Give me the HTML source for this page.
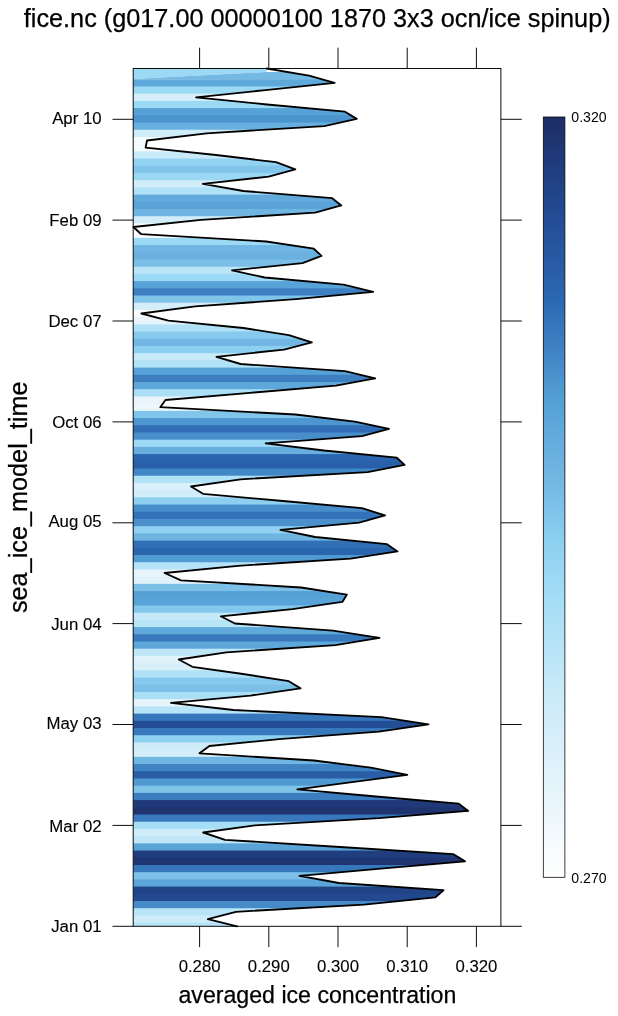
<!DOCTYPE html><html><head><meta charset="utf-8"><title>fice.nc</title>
<style>html,body{margin:0;padding:0;background:#fff}svg{display:block}text{font-family:"Liberation Sans",sans-serif;fill:#000}.b{stroke:#000;stroke-width:0.25px}.m{stroke:#000;stroke-width:0.12px}</style></head><body>
<svg width="618" height="1016" viewBox="0 0 618 1016">
<rect width="618" height="1016" fill="#fff"/>
<defs><clipPath id="c"><polygon points="133.2,68.5 266.5,68.5 309.0,75.7 334.6,82.9 265.6,90.1 196.1,97.3 267.0,104.5 345.0,111.7 356.7,118.9 324.3,126.1 206.6,133.3 147.0,140.5 145.6,147.7 216.0,155.0 276.0,162.2 295.3,169.4 268.7,176.6 202.9,183.8 243.4,191.0 332.2,198.2 341.3,205.4 315.2,212.6 200.9,219.8 133.4,227.0 141.3,234.2 266.1,241.5 313.8,248.7 321.5,255.9 302.5,263.1 232.1,270.3 264.7,277.5 343.6,284.7 373.2,291.9 296.0,299.1 195.2,306.3 141.3,313.5 168.3,320.7 243.4,328.0 288.8,335.2 311.8,342.4 284.0,349.6 216.5,356.8 240.6,364.0 345.0,371.2 375.2,378.4 336.0,385.6 250.0,392.8 165.5,400.0 160.3,407.2 295.4,414.5 354.9,421.7 389.0,428.9 362.0,436.1 265.6,443.3 324.0,450.5 396.8,457.7 404.6,464.9 367.7,472.1 240.6,479.3 191.0,486.5 203.0,493.8 283.0,501.0 362.0,508.2 385.0,515.4 359.2,522.6 280.5,529.8 315.2,537.0 387.0,544.2 397.5,551.4 350.7,558.6 238.0,565.8 164.6,573.0 181.0,580.3 301.0,587.5 346.8,594.7 342.3,601.9 292.5,609.1 220.8,616.3 234.9,623.5 333.0,630.7 379.5,637.9 335.5,645.1 226.4,652.3 178.8,659.5 192.4,666.8 243.0,674.0 288.8,681.2 300.5,688.4 250.5,695.6 171.0,702.8 233.5,710.0 381.5,717.2 428.5,724.4 379.0,731.6 282.0,738.8 209.4,746.0 199.5,753.3 314.0,760.5 370.9,767.7 407.3,774.9 352.0,782.1 297.3,789.3 376.0,796.5 458.8,803.7 468.2,810.9 379.0,818.1 254.8,825.3 203.2,832.5 225.0,839.8 340.0,847.0 453.5,854.2 465.0,861.4 381.0,868.6 299.5,875.8 339.0,883.0 443.5,890.2 435.4,897.4 364.0,904.6 236.0,911.8 207.8,919.1 237.1,926.3 133.2,926.3"/></clipPath>
<linearGradient id="g" x1="0" y1="0" x2="0" y2="1"><stop offset="0.000" stop-color="#1e2d66"/><stop offset="0.122" stop-color="#224a91"/><stop offset="0.241" stop-color="#2c68b2"/><stop offset="0.372" stop-color="#549fd5"/><stop offset="0.491" stop-color="#76bbe5"/><stop offset="0.557" stop-color="#8dcff0"/><stop offset="0.622" stop-color="#a0dcf6"/><stop offset="0.754" stop-color="#c9eaf8"/><stop offset="0.886" stop-color="#e6f4fb"/><stop offset="1.000" stop-color="#ffffff"/></linearGradient></defs>
<g clip-path="url(#c)">
<polygon points="133.25,68.45 266.50,68.45 266.50,72.05 133.25,79.06" fill="#9bd9f5"/>
<polygon points="133.25,79.06 266.50,72.05 500.92,72.05 500.92,80.26" fill="#74b9e4"/>
<rect x="133.2" y="79.26" width="367.7" height="8.41" fill="#5fa8da"/>
<rect x="133.2" y="86.47" width="367.7" height="8.41" fill="#9cd9f5"/>
<rect x="133.2" y="93.68" width="367.7" height="8.41" fill="#d5eef9"/>
<rect x="133.2" y="100.89" width="367.7" height="8.41" fill="#9bd9f4"/>
<rect x="133.2" y="108.10" width="367.7" height="8.41" fill="#56a1d6"/>
<rect x="133.2" y="115.31" width="367.7" height="8.41" fill="#4c94ce"/>
<rect x="133.2" y="122.51" width="367.7" height="8.41" fill="#67afde"/>
<rect x="133.2" y="129.72" width="367.7" height="8.41" fill="#cfecf9"/>
<rect x="133.2" y="136.93" width="367.7" height="8.41" fill="#f4fafd"/>
<rect x="133.2" y="144.14" width="367.7" height="8.41" fill="#f5fbfd"/>
<rect x="133.2" y="151.35" width="367.7" height="8.41" fill="#c9eaf8"/>
<rect x="133.2" y="158.56" width="367.7" height="8.41" fill="#93d3f2"/>
<rect x="133.2" y="165.76" width="367.7" height="8.41" fill="#81c5ea"/>
<rect x="133.2" y="172.97" width="367.7" height="8.41" fill="#9ad8f4"/>
<rect x="133.2" y="180.18" width="367.7" height="8.41" fill="#d1edf9"/>
<rect x="133.2" y="187.39" width="367.7" height="8.41" fill="#b0e1f7"/>
<rect x="133.2" y="194.60" width="367.7" height="8.41" fill="#61aadb"/>
<rect x="133.2" y="201.81" width="367.7" height="8.41" fill="#59a3d7"/>
<rect x="133.2" y="209.02" width="367.7" height="8.41" fill="#6fb5e2"/>
<rect x="133.2" y="216.22" width="367.7" height="8.41" fill="#d2edf9"/>
<rect x="133.2" y="223.43" width="367.7" height="8.41" fill="#fdfeff"/>
<rect x="133.2" y="230.64" width="367.7" height="8.41" fill="#f8fcfe"/>
<rect x="133.2" y="237.85" width="367.7" height="8.41" fill="#9cd9f5"/>
<rect x="133.2" y="245.06" width="367.7" height="8.41" fill="#70b6e2"/>
<rect x="133.2" y="252.27" width="367.7" height="8.41" fill="#6ab1df"/>
<rect x="133.2" y="259.47" width="367.7" height="8.41" fill="#7abee7"/>
<rect x="133.2" y="266.68" width="367.7" height="8.41" fill="#bae5f7"/>
<rect x="133.2" y="273.89" width="367.7" height="8.41" fill="#9ddaf5"/>
<rect x="133.2" y="281.10" width="367.7" height="8.41" fill="#57a2d7"/>
<rect x="133.2" y="288.31" width="367.7" height="8.41" fill="#3d80c1"/>
<rect x="133.2" y="295.52" width="367.7" height="8.41" fill="#81c4ea"/>
<rect x="133.2" y="302.73" width="367.7" height="8.41" fill="#d6eef9"/>
<rect x="133.2" y="309.93" width="367.7" height="8.41" fill="#f8fcfe"/>
<rect x="133.2" y="317.14" width="367.7" height="8.41" fill="#e7f4fb"/>
<rect x="133.2" y="324.35" width="367.7" height="8.41" fill="#b0e1f7"/>
<rect x="133.2" y="331.56" width="367.7" height="8.41" fill="#88caee"/>
<rect x="133.2" y="338.77" width="367.7" height="8.41" fill="#72b7e3"/>
<rect x="133.2" y="345.98" width="367.7" height="8.41" fill="#8dcff0"/>
<rect x="133.2" y="353.19" width="367.7" height="8.41" fill="#c8eaf8"/>
<rect x="133.2" y="360.39" width="367.7" height="8.41" fill="#b2e2f7"/>
<rect x="133.2" y="367.60" width="367.7" height="8.41" fill="#56a1d6"/>
<rect x="133.2" y="374.81" width="367.7" height="8.41" fill="#3c7ec0"/>
<rect x="133.2" y="382.02" width="367.7" height="8.41" fill="#5ea7da"/>
<rect x="133.2" y="389.23" width="367.7" height="8.41" fill="#aadff6"/>
<rect x="133.2" y="396.44" width="367.7" height="8.41" fill="#e9f5fb"/>
<rect x="133.2" y="403.64" width="367.7" height="8.41" fill="#ecf7fc"/>
<rect x="133.2" y="410.85" width="367.7" height="8.41" fill="#81c5ea"/>
<rect x="133.2" y="418.06" width="367.7" height="8.41" fill="#4e96cf"/>
<rect x="133.2" y="425.27" width="367.7" height="8.41" fill="#306db5"/>
<rect x="133.2" y="432.48" width="367.7" height="8.41" fill="#478eca"/>
<rect x="133.2" y="439.69" width="367.7" height="8.41" fill="#9cd9f5"/>
<rect x="133.2" y="446.90" width="367.7" height="8.41" fill="#68afde"/>
<rect x="133.2" y="454.10" width="367.7" height="8.41" fill="#2b65af"/>
<rect x="133.2" y="461.31" width="367.7" height="8.41" fill="#2960a9"/>
<rect x="133.2" y="468.52" width="367.7" height="8.41" fill="#4287c6"/>
<rect x="133.2" y="475.73" width="367.7" height="8.41" fill="#b2e2f7"/>
<rect x="133.2" y="482.94" width="367.7" height="8.41" fill="#d9effa"/>
<rect x="133.2" y="490.15" width="367.7" height="8.41" fill="#d1edf9"/>
<rect x="133.2" y="497.35" width="367.7" height="8.41" fill="#8ecff0"/>
<rect x="133.2" y="504.56" width="367.7" height="8.41" fill="#478eca"/>
<rect x="133.2" y="511.77" width="367.7" height="8.41" fill="#3372b8"/>
<rect x="133.2" y="518.98" width="367.7" height="8.41" fill="#4a91cc"/>
<rect x="133.2" y="526.19" width="367.7" height="8.41" fill="#90d1f1"/>
<rect x="133.2" y="533.40" width="367.7" height="8.41" fill="#6fb5e2"/>
<rect x="133.2" y="540.61" width="367.7" height="8.41" fill="#316fb7"/>
<rect x="133.2" y="547.81" width="367.7" height="8.41" fill="#2b65ae"/>
<rect x="133.2" y="555.02" width="367.7" height="8.41" fill="#519bd3"/>
<rect x="133.2" y="562.23" width="367.7" height="8.41" fill="#b5e3f7"/>
<rect x="133.2" y="569.44" width="367.7" height="8.41" fill="#e9f5fc"/>
<rect x="133.2" y="576.65" width="367.7" height="8.41" fill="#dff2fa"/>
<rect x="133.2" y="583.86" width="367.7" height="8.41" fill="#7cc0e8"/>
<rect x="133.2" y="591.07" width="367.7" height="8.41" fill="#55a0d5"/>
<rect x="133.2" y="598.27" width="367.7" height="8.41" fill="#58a3d7"/>
<rect x="133.2" y="605.48" width="367.7" height="8.41" fill="#84c7ec"/>
<rect x="133.2" y="612.69" width="367.7" height="8.41" fill="#c4e8f8"/>
<rect x="133.2" y="619.90" width="367.7" height="8.41" fill="#b8e4f7"/>
<rect x="133.2" y="627.11" width="367.7" height="8.41" fill="#60a9db"/>
<rect x="133.2" y="634.32" width="367.7" height="8.41" fill="#3878bc"/>
<rect x="133.2" y="641.52" width="367.7" height="8.41" fill="#5ea7da"/>
<rect x="133.2" y="648.73" width="367.7" height="8.41" fill="#bfe7f8"/>
<rect x="133.2" y="655.94" width="367.7" height="8.41" fill="#e0f2fa"/>
<rect x="133.2" y="663.15" width="367.7" height="8.41" fill="#d8effa"/>
<rect x="133.2" y="670.36" width="367.7" height="8.41" fill="#b0e2f7"/>
<rect x="133.2" y="677.57" width="367.7" height="8.41" fill="#88caee"/>
<rect x="133.2" y="684.78" width="367.7" height="8.41" fill="#7cc0e8"/>
<rect x="133.2" y="691.98" width="367.7" height="8.41" fill="#aadff6"/>
<rect x="133.2" y="699.19" width="367.7" height="8.41" fill="#e5f4fb"/>
<rect x="133.2" y="706.40" width="367.7" height="8.41" fill="#b9e4f7"/>
<rect x="133.2" y="713.61" width="367.7" height="8.41" fill="#3676bb"/>
<rect x="133.2" y="720.82" width="367.7" height="8.41" fill="#234e96"/>
<rect x="133.2" y="728.03" width="367.7" height="8.41" fill="#3879bd"/>
<rect x="133.2" y="735.24" width="367.7" height="8.41" fill="#8ed0f0"/>
<rect x="133.2" y="742.44" width="367.7" height="8.41" fill="#cdebf8"/>
<rect x="133.2" y="749.65" width="367.7" height="8.41" fill="#d3edf9"/>
<rect x="133.2" y="756.86" width="367.7" height="8.41" fill="#70b6e2"/>
<rect x="133.2" y="764.07" width="367.7" height="8.41" fill="#3f83c3"/>
<rect x="133.2" y="771.28" width="367.7" height="8.41" fill="#295ea7"/>
<rect x="133.2" y="778.49" width="367.7" height="8.41" fill="#509ad2"/>
<rect x="133.2" y="785.69" width="367.7" height="8.41" fill="#7fc3e9"/>
<rect x="133.2" y="792.90" width="367.7" height="8.41" fill="#3b7dbf"/>
<rect x="133.2" y="800.11" width="367.7" height="8.41" fill="#203978"/>
<rect x="133.2" y="807.32" width="367.7" height="8.41" fill="#1f336e"/>
<rect x="133.2" y="814.53" width="367.7" height="8.41" fill="#3879bd"/>
<rect x="133.2" y="821.74" width="367.7" height="8.41" fill="#a6def6"/>
<rect x="133.2" y="828.95" width="367.7" height="8.41" fill="#d1edf9"/>
<rect x="133.2" y="836.15" width="367.7" height="8.41" fill="#c0e7f8"/>
<rect x="133.2" y="843.36" width="367.7" height="8.41" fill="#5aa4d8"/>
<rect x="133.2" y="850.57" width="367.7" height="8.41" fill="#203d7d"/>
<rect x="133.2" y="857.78" width="367.7" height="8.41" fill="#1f3572"/>
<rect x="133.2" y="864.99" width="367.7" height="8.41" fill="#3777bb"/>
<rect x="133.2" y="872.20" width="367.7" height="8.41" fill="#7dc1e8"/>
<rect x="133.2" y="879.40" width="367.7" height="8.41" fill="#5ba5d8"/>
<rect x="133.2" y="886.61" width="367.7" height="8.41" fill="#214487"/>
<rect x="133.2" y="893.82" width="367.7" height="8.41" fill="#224990"/>
<rect x="133.2" y="901.03" width="367.7" height="8.41" fill="#468bc8"/>
<rect x="133.2" y="908.24" width="367.7" height="8.41" fill="#b7e4f7"/>
<rect x="133.2" y="915.45" width="367.7" height="8.41" fill="#ceecf9"/>
<rect x="133.2" y="922.66" width="367.7" height="4.80" fill="#b6e3f7"/>
</g>
<polyline points="266.5,68.5 309.0,75.7 334.6,82.9 265.6,90.1 196.1,97.3 267.0,104.5 345.0,111.7 356.7,118.9 324.3,126.1 206.6,133.3 147.0,140.5 145.6,147.7 216.0,155.0 276.0,162.2 295.3,169.4 268.7,176.6 202.9,183.8 243.4,191.0 332.2,198.2 341.3,205.4 315.2,212.6 200.9,219.8 133.4,227.0 141.3,234.2 266.1,241.5 313.8,248.7 321.5,255.9 302.5,263.1 232.1,270.3 264.7,277.5 343.6,284.7 373.2,291.9 296.0,299.1 195.2,306.3 141.3,313.5 168.3,320.7 243.4,328.0 288.8,335.2 311.8,342.4 284.0,349.6 216.5,356.8 240.6,364.0 345.0,371.2 375.2,378.4 336.0,385.6 250.0,392.8 165.5,400.0 160.3,407.2 295.4,414.5 354.9,421.7 389.0,428.9 362.0,436.1 265.6,443.3 324.0,450.5 396.8,457.7 404.6,464.9 367.7,472.1 240.6,479.3 191.0,486.5 203.0,493.8 283.0,501.0 362.0,508.2 385.0,515.4 359.2,522.6 280.5,529.8 315.2,537.0 387.0,544.2 397.5,551.4 350.7,558.6 238.0,565.8 164.6,573.0 181.0,580.3 301.0,587.5 346.8,594.7 342.3,601.9 292.5,609.1 220.8,616.3 234.9,623.5 333.0,630.7 379.5,637.9 335.5,645.1 226.4,652.3 178.8,659.5 192.4,666.8 243.0,674.0 288.8,681.2 300.5,688.4 250.5,695.6 171.0,702.8 233.5,710.0 381.5,717.2 428.5,724.4 379.0,731.6 282.0,738.8 209.4,746.0 199.5,753.3 314.0,760.5 370.9,767.7 407.3,774.9 352.0,782.1 297.3,789.3 376.0,796.5 458.8,803.7 468.2,810.9 379.0,818.1 254.8,825.3 203.2,832.5 225.0,839.8 340.0,847.0 453.5,854.2 465.0,861.4 381.0,868.6 299.5,875.8 339.0,883.0 443.5,890.2 435.4,897.4 364.0,904.6 236.0,911.8 207.8,919.1 237.1,926.3" fill="none" stroke="#000" stroke-width="1.85" stroke-linejoin="round" stroke-linecap="round"/>
<rect x="133.2" y="68.5" width="367.7" height="857.8" fill="none" stroke="#000" stroke-width="0.95"/>
<path d="M199.6,68.5V47.7M199.6,926.3V947.1M268.8,68.5V47.7M268.8,926.3V947.1M338.0,68.5V47.7M338.0,926.3V947.1M407.2,68.5V47.7M407.2,926.3V947.1M476.4,68.5V47.7M476.4,926.3V947.1M133.2,119.3H112.5M500.9,119.3H521.8M133.2,220.1H112.5M500.9,220.1H521.8M133.2,321.0H112.5M500.9,321.0H521.8M133.2,421.9H112.5M500.9,421.9H521.8M133.2,522.8H112.5M500.9,522.8H521.8M133.2,623.6H112.5M500.9,623.6H521.8M133.2,724.5H112.5M500.9,724.5H521.8M133.2,825.4H112.5M500.9,825.4H521.8M133.2,926.3H112.5M500.9,926.3H521.8" stroke="#000" stroke-width="0.95" fill="none"/>
<text x="199.6" y="971.5" font-size="16.75" class="m" text-anchor="middle">0.280</text>
<text x="268.8" y="971.5" font-size="16.75" class="m" text-anchor="middle">0.290</text>
<text x="338.0" y="971.5" font-size="16.75" class="m" text-anchor="middle">0.300</text>
<text x="407.2" y="971.5" font-size="16.75" class="m" text-anchor="middle">0.310</text>
<text x="476.4" y="971.5" font-size="16.75" class="m" text-anchor="middle">0.320</text>
<text x="101.6" y="123.5" font-size="16.8" class="m" text-anchor="end">Apr 10</text>
<text x="101.6" y="226.2" font-size="16.8" class="m" text-anchor="end">Feb 09</text>
<text x="101.6" y="327.1" font-size="16.8" class="m" text-anchor="end">Dec 07</text>
<text x="101.6" y="428.0" font-size="16.8" class="m" text-anchor="end">Oct 06</text>
<text x="101.6" y="527.0" font-size="16.8" class="m" text-anchor="end">Aug 05</text>
<text x="101.6" y="629.7" font-size="16.8" class="m" text-anchor="end">Jun 04</text>
<text x="101.6" y="728.7" font-size="16.8" class="m" text-anchor="end">May 03</text>
<text x="101.6" y="831.5" font-size="16.8" class="m" text-anchor="end">Mar 02</text>
<text x="101.6" y="932.4" font-size="16.8" class="m" text-anchor="end">Jan 01</text>
<text x="317.2" y="26.7" font-size="25.25" class="b" text-anchor="middle">fice.nc (g017.00 00000100 1870 3x3 ocn/ice spinup)</text>
<text x="317.4" y="1002.5" font-size="23.15" class="b" text-anchor="middle">averaged ice concentration</text>
<text transform="translate(27.2,497.3) rotate(-90)" font-size="25.25" class="b" text-anchor="middle">sea_ice_model_time</text>
<rect x="543.3" y="117" width="21.6" height="760.3" fill="url(#g)" stroke="#000" stroke-width="0.75"/>
<text x="571.3" y="122.4" font-size="14.1">0.320</text>
<text x="571.3" y="882.9" font-size="14.1">0.270</text>
</svg></body></html>
